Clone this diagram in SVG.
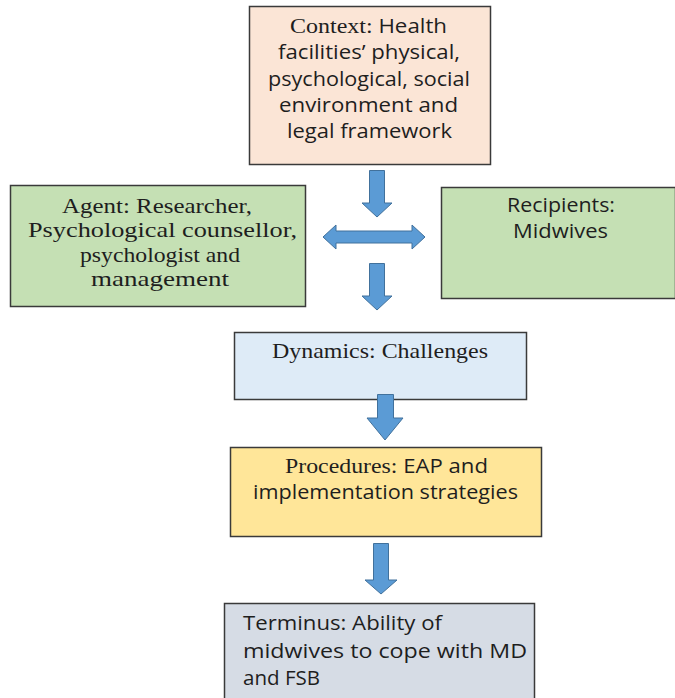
<svg xmlns="http://www.w3.org/2000/svg" width="675" height="698" viewBox="0 0 675 698">
  <style>
    .box { stroke: #3a3a3a; stroke-width: 1.5; }
    .sans { font-family: "Open Sans", "Liberation Sans", sans-serif; font-size: 19.5px; fill: #1e1e1e; }
    .serif { font-family: "Liberation Serif", "DejaVu Serif", serif; font-size: 21px; fill: #1e1e1e; }
    .arrow { fill: #5B9BD5; stroke: #41719C; stroke-width: 1; }
  </style>
  <rect width="675" height="698" fill="#ffffff"/>

  <g id="context">
    <rect class="box" x="249.5" y="6.5" width="241" height="158" fill="#FBE5D6"/>
    <text class="sans" x="290" y="33" textLength="157" lengthAdjust="spacingAndGlyphs"><tspan class="serif">Context:</tspan> Health</text>
    <text class="sans" x="278" y="59" textLength="182" lengthAdjust="spacingAndGlyphs">facilities’ physical,</text>
    <text class="sans" x="268" y="86" textLength="202" lengthAdjust="spacingAndGlyphs">psychological, social</text>
    <text class="sans" x="279" y="112" textLength="179" lengthAdjust="spacingAndGlyphs">environment and</text>
    <text class="sans" x="287" y="138" textLength="165" lengthAdjust="spacingAndGlyphs">legal framework</text>
  </g>

  <g id="agent">
    <rect class="box" x="10.5" y="185.5" width="295" height="121" fill="#C5E0B4"/>
    <text class="serif" x="62" y="213" textLength="190" lengthAdjust="spacingAndGlyphs">Agent: Researcher,</text>
    <text class="serif" x="28" y="237" textLength="269" lengthAdjust="spacingAndGlyphs">Psychological counsellor,</text>
    <text class="serif" x="80" y="262" textLength="160" lengthAdjust="spacingAndGlyphs">psychologist and</text>
    <text class="serif" x="91" y="286" textLength="138" lengthAdjust="spacingAndGlyphs">management</text>
  </g>

  <g id="recipients">
    <rect class="box" x="441.5" y="187.5" width="234" height="111" fill="#C5E0B4"/>
    <text class="sans" x="507" y="212" textLength="108" lengthAdjust="spacingAndGlyphs">Recipients:</text>
    <text class="sans" x="513" y="238" textLength="95" lengthAdjust="spacingAndGlyphs">Midwives</text>
  </g>

  <g id="dynamics">
    <rect class="box" x="234.5" y="332.5" width="292" height="67" fill="#DEEBF7"/>
    <text class="serif" x="272" y="358" textLength="216" lengthAdjust="spacingAndGlyphs">Dynamics: Challenges</text>
  </g>

  <g id="procedures">
    <rect class="box" x="230.5" y="447.5" width="311" height="89" fill="#FFE699"/>
    <text class="sans" x="285" y="473" textLength="203" lengthAdjust="spacingAndGlyphs"><tspan class="serif">Procedures:</tspan> EAP and</text>
    <text class="sans" x="253" y="499" textLength="265" lengthAdjust="spacingAndGlyphs">implementation strategies</text>
  </g>

  <g id="terminus">
    <rect class="box" x="224.5" y="603.5" width="310" height="100" fill="#D6DCE5"/>
    <text class="sans" x="243" y="630" textLength="199" lengthAdjust="spacingAndGlyphs">Terminus: Ability of</text>
    <text class="sans" x="243" y="658" textLength="284" lengthAdjust="spacingAndGlyphs">midwives to cope with MD</text>
    <text class="sans" x="243" y="685" textLength="77" lengthAdjust="spacingAndGlyphs">and FSB</text>
  </g>

  <g id="connectors">
    <!-- context down to the agent/recipient exchange -->
    <path class="arrow" d="M369.5,170.5 H384.5 V203 H392 L377,217 L362,203 H369.5 Z"/>
    <!-- two-way exchange between agent and recipients -->
    <path class="arrow" d="M323,237 L336,225 V231 H412 V225 L425,237 L412,249 V243 H336 V249 Z"/>
    <!-- down to dynamics -->
    <path class="arrow" d="M369.5,263.5 H384.5 V296 H392 L377,310 L362,296 H369.5 Z"/>
    <!-- dynamics to procedures -->
    <path class="arrow" d="M377.5,394.5 H393.5 V418 H403 L385,440 L367,418 H377.5 Z"/>
    <!-- procedures to terminus -->
    <path class="arrow" d="M373.5,543.5 H388.5 V580 H397 L381,594 L365,580 H373.5 Z"/>
  </g>
</svg>
